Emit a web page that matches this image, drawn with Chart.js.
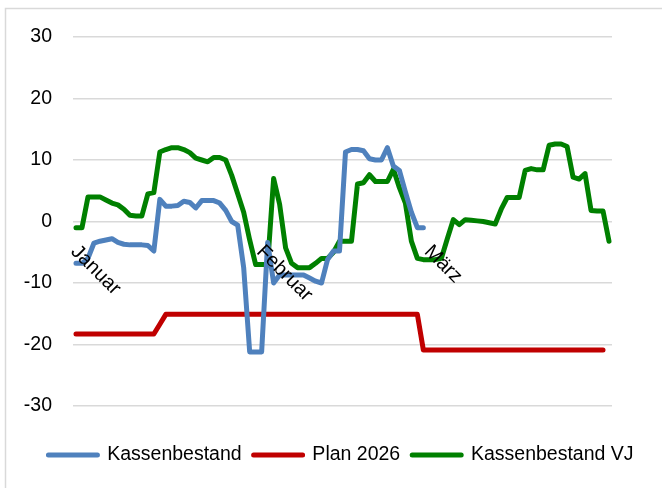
<!DOCTYPE html>
<html>
<head>
<meta charset="utf-8">
<script src="https://cdn.jsdelivr.net/npm/chart.js@4/dist/chart.umd.min.js"></script>
<style>
  html, body { margin: 0; padding: 0; background: #fff; }
  #wrap { width: 662px; height: 488px; }
</style>
</head>
<body>
<div id="wrap"><canvas id="grafico" width="662" height="488"></canvas></div>
<script>
// Monate / Tage
const monthNames = ['Januar', 'Februar', 'März'];
const monthDays = [31, 28, 31];

// Kassenbestand (Jan 1 - Feb 28)
const kassenbestand = [
  -6.8, -6.8, -6.0, -3.5, -3.2, -3.0, -2.8, -3.4, -3.7, -3.8,
  -3.8, -3.8, -3.9, -4.8, 3.6, 2.5, 2.5, 2.6, 3.3, 3.1,
  2.2, 3.4, 3.4, 3.4, 3.0, 1.8, 0.0, -0.6, -7.5, -21.2,
  -21.2, -21.2, -3.4, -10.0, -8.7, -8.7, -8.7, -8.7, -8.7, -9.2,
  -9.7, -10.0, -6.2, -4.8, -4.8, 11.3, 11.7, 11.7, 11.5, 10.2,
  10.0, 10.0, 12.0, 9.0, 8.3, 4.8, 1.5, -1.0, -1.0
];

// Plan 2026
const plan2026 = [
  -18.3, -18.3, -18.3, -18.3, -18.3, -18.3, -18.3, -18.3, -18.3, -18.3,
  -18.3, -18.3, -18.3, -18.3, -16.7, -15.1, -15.1, -15.1, -15.1, -15.1,
  -15.1, -15.1, -15.1, -15.1, -15.1, -15.1, -15.1, -15.1, -15.1, -15.1,
  -15.1, -15.1, -15.1, -15.1, -15.1, -15.1, -15.1, -15.1, -15.1, -15.1,
  -15.1, -15.1, -15.1, -15.1, -15.1, -15.1, -15.1, -15.1, -15.1, -15.1,
  -15.1, -15.1, -15.1, -15.1, -15.1, -15.1, -15.1, -15.1, -20.9, -20.9,
  -20.9, -20.9, -20.9, -20.9, -20.9, -20.9, -20.9, -20.9, -20.9, -20.9,
  -20.9, -20.9, -20.9, -20.9, -20.9, -20.9, -20.9, -20.9, -20.9, -20.9,
  -20.9, -20.9, -20.9, -20.9, -20.9, -20.9, -20.9, -20.9, -20.9
];

// Kassenbestand Vorjahr
const kassenbestandVJ = [
  -1.0, -1.0, 4.0, 4.0, 4.0, 3.5, 3.0, 2.7, 2.0, 1.0,
  0.9, 0.9, 4.5, 4.7, 11.3, 11.7, 12.0, 12.0, 11.7, 11.2,
  10.3, 10.0, 9.7, 10.4, 10.4, 10.0, 7.5, 4.5, 1.5, -3.0,
  -7.0, -7.0, -7.0, 7.0, 2.8, -4.3, -6.8, -7.5, -7.5, -7.5,
  -6.8, -6.0, -6.0, -5.0, -3.2, -3.2, -3.2, 6.1, 6.3, 7.6,
  6.5, 6.5, 6.5, 8.5, 5.5, 3.0, -3.2, -6.0, -6.2, -6.2,
  -6.2, -6.0, -2.8, 0.3, -0.5, 0.3, 0.2, 0.1, 0.0, -0.2,
  -0.4, 2.0, 3.9, 3.9, 3.9, 8.3, 8.6, 8.4, 8.4, 12.4,
  12.6, 12.6, 12.2, 7.2, 6.9, 7.8, 1.8, 1.7, 1.7, -3.2
];

// Y-Achse
const yTicks = [-30, -20, -10, 0, 10, 20, 30];

const FONT = '"Liberation Sans", Arial, sans-serif';

// Tages-Labels und Monatsanfänge
const labels = [];
const monthStarts = [];
monthNames.forEach((m, mi) => {
  monthStarts.push(labels.length);
  for (let d = 1; d <= monthDays[mi]; d++) labels.push(d + '. ' + m);
});

// Rahmen oben und links
const rahmen = {
  id: 'rahmen',
  beforeDraw(chart) {
    const ctx = chart.ctx;
    ctx.save();
    ctx.strokeStyle = '#d9d9d9';
    ctx.lineWidth = 1.5;
    ctx.beginPath();
    ctx.moveTo(5.5, chart.height);
    ctx.lineTo(5.5, 8.5);
    ctx.lineTo(chart.width, 8.5);
    ctx.stroke();
    ctx.restore();
  }
};

// Monatsnamen schräg an der Nulllinie
const monate = {
  id: 'monate',
  afterDatasetsDraw(chart) {
    const ctx = chart.ctx;
    const x = chart.scales.x;
    const y = chart.scales.y;
    const y0 = y.getPixelForValue(0);
    ctx.save();
    ctx.font = '20px ' + FONT;
    ctx.fillStyle = '#000';
    ctx.textAlign = 'left';
    ctx.textBaseline = 'middle';
    monthStarts.forEach((idx, mi) => {
      ctx.save();
      ctx.translate(x.getPixelForValue(idx) - 2, y0 + 27);
      ctx.rotate(Math.PI / 4);
      ctx.fillText(monthNames[mi], 0, 0);
      ctx.restore();
    });
    ctx.restore();
  }
};

function serie(label, data, color) {
  return {
    label: label,
    data: data,
    borderColor: color,
    backgroundColor: color,
    borderWidth: 5,
    borderCapStyle: 'round',
    borderJoinStyle: 'round',
    pointRadius: 0,
    tension: 0,
    fill: false
  };
}

new Chart(document.getElementById('grafico'), {
  type: 'line',
  data: {
    labels: labels,
    datasets: [
      serie('Kassenbestand', kassenbestand, '#4f81bd'),
      serie('Plan 2026', plan2026, '#c00000'),
      serie('Kassenbestand VJ', kassenbestandVJ, '#008000')
    ]
  },
  options: {
    responsive: false,
    animation: false,
    layout: { padding: { left: 20, right: 0, top: 37, bottom: 13.25 } },
    plugins: {
      legend: {
        position: 'bottom',
        labels: {
          boxWidth: 49,
          boxHeight: 0,
          padding: 12,
          color: '#000',
          font: { size: 19.5, family: FONT }
        }
      },
      tooltip: { enabled: false }
    },
    scales: {
      x: {
        offset: true,
        grid: { display: false },
        border: { display: false },
        ticks: { display: false },
        afterFit(s) { s.height = 27.25; }
      },
      y: {
        min: -30,
        max: 30,
        afterBuildTicks(s) { s.ticks = yTicks.map(v => ({ value: v })); },
        grid: { color: '#d9d9d9', lineWidth: 1.5, drawTicks: false },
        border: { display: false },
        ticks: {
          padding: 21,
          color: '#000',
          font: { size: 19.5, family: FONT }
        },
        afterFit(s) { s.width = 53; }
      },
      y2: {
        position: 'right',
        min: -30,
        max: 30,
        grid: { display: false },
        border: { display: false },
        ticks: { display: false },
        afterFit(s) { s.width = 50; }
      }
    }
  },
  plugins: [rahmen, monate]
});
</script>
</body>
</html>
